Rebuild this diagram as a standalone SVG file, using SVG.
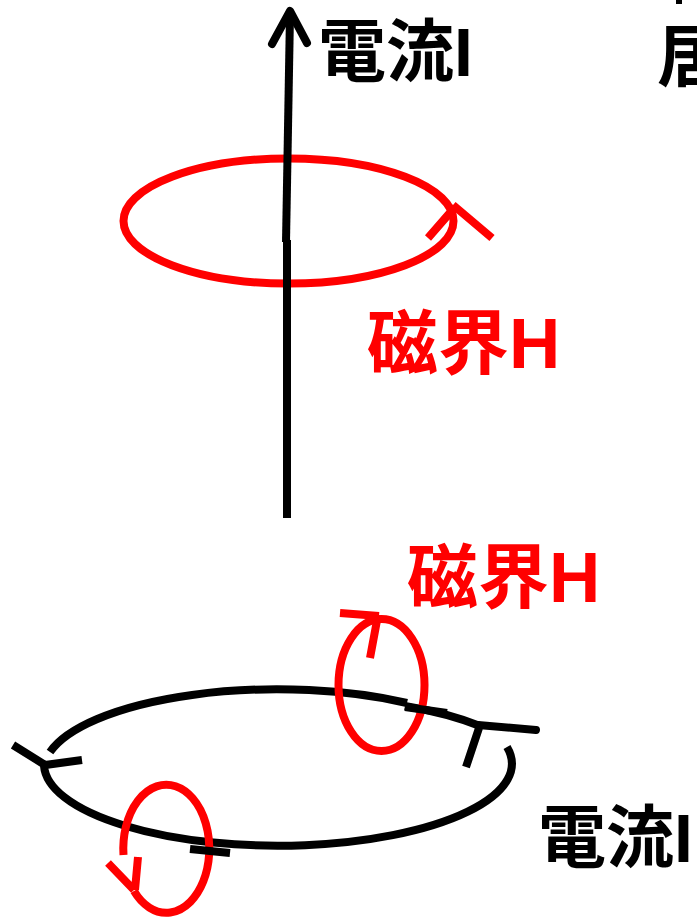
<svg xmlns="http://www.w3.org/2000/svg" width="697" height="923" viewBox="0 0 697 923">
<style>
.k{fill:none;stroke:#000;stroke-width:8}
.r{fill:none;stroke:#FF0000;stroke-width:8}
.t{font-family:"Liberation Sans","Noto Sans CJK JP",sans-serif;font-weight:bold}
</style>
<rect width="697" height="923" fill="#fff"/>
<g id="field-top">
<ellipse class="r" cx="288.5" cy="221" rx="165" ry="62.5"/>
<path class="r" d="M428,238 L455,207 M453,205 L492,238"/>
</g>
<g id="connectors">
<path class="k" d="M287,518 L287,240"/>
<path class="k" d="M286,242 L290,14"/>
<path class="k" d="M272,44 L290,11 L307,43" stroke-linejoin="round" stroke-linecap="round"/>
</g>
<g id="loop">
<path class="k" d="M50,752 A234,82 0 0,1 407,703"/>
<path class="k" d="M405,706 A234,82 0 0,1 480,726"/>
<path class="k" d="M478,725 L536,730" stroke-linecap="round"/>
<path class="k" d="M479,728 L466,767"/>
<path class="k" d="M507,747 A234,82 0 1,1 44,766"/>
<path class="k" d="M13,745 L45,765 L82,760"/>
</g>
<g id="field-right">
<ellipse class="r" cx="381.5" cy="685" rx="43" ry="66"/>
<path class="r" d="M340,613 L379,616 M378,615 L370,658"/>
<path class="k" d="M405,707 L447,713"/>
</g>
<g id="field-left">
<path class="r" d="M123.5,855 A43,64 0 1,1 134,891"/>
<path class="r" d="M108,863 L134,890 M138,857 L135,890"/>
<path class="k" d="M190,849 L230,853"/>
</g>
<g id="labels">
<text class="t" x="318" y="76" font-size="68" fill="#000">電流I</text>
<text class="t" x="657" y="81" font-size="68" fill="#000">居</text>
<rect x="676" y="0" width="6" height="4" fill="#000"/>
<text class="t" x="367" y="368" font-size="71" fill="#FF0000">磁界H</text>
<text class="t" x="407" y="602" font-size="71" fill="#FF0000">磁界H</text>
<text class="t" x="538" y="862" font-size="68" fill="#000">電流I</text>
</g>
</svg>
